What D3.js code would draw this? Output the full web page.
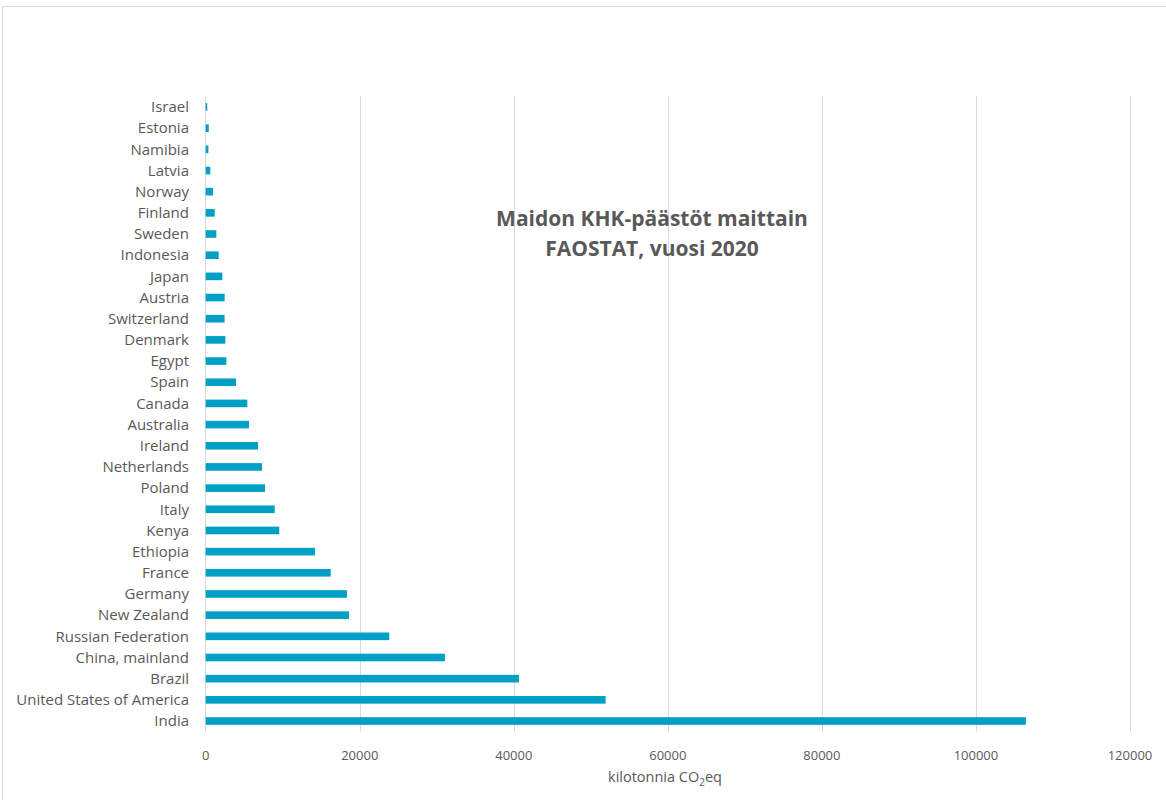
<!DOCTYPE html>
<html><head><meta charset="utf-8">
<script src="https://cdn.jsdelivr.net/npm/d3@7"></script>
<style>body{margin:0;background:#fff;} svg{display:block;}</style>
</head><body>
<svg id="chart" width="1166" height="800"></svg>
<script>
const countries = ["Israel","Estonia","Namibia","Latvia","Norway","Finland","Sweden","Indonesia","Japan","Austria","Switzerland","Denmark","Egypt","Spain","Canada","Australia","Ireland","Netherlands","Poland","Italy","Kenya","Ethiopia","France","Germany","New Zealand","Russian Federation","China, mainland","Brazil","United States of America","India"];
const emissions = [200,400,350,600,950,1170,1380,1690,2160,2460,2450,2550,2680,3930,5400,5620,6790,7310,7700,8960,9550,14190,16230,18340,18600,23830,31060,40670,51920,106480];
const xTicks = [0,20000,40000,60000,80000,100000,120000];
const titleLines = ["Maidon KHK-päästöt maittain","FAOSTAT, vuosi 2020"];

(function(){
const svg = d3.select("#chart");
const font = "'Segoe UI','Open Sans','Noto Sans',sans-serif";
const grey = "#595959";

svg.append("rect").attr("x",2.5).attr("y",6.5).attr("width",1200).attr("height",850)
  .attr("fill","#fff").attr("stroke","#d9d9d9").attr("stroke-width",1);

const pLeft = 205.7, pRight = 1130, pTop = 96.4, pBottom = 731.6;
const x = d3.scaleLinear().domain([0,120000]).range([pLeft,pRight]);
const y = d3.scaleBand().domain(countries).range([pTop,pBottom]).paddingInner(0.64).paddingOuter(0.32);

svg.append("g").selectAll("line").data(xTicks.slice(1)).join("line")
  .attr("x1",d=>Math.round(x(d))+0.5).attr("x2",d=>Math.round(x(d))+0.5)
  .attr("y1",pTop).attr("y2",pBottom).attr("stroke","#d9d9d9").attr("stroke-width",1);

svg.append("line").attr("x1",Math.round(x(0))-0.5).attr("x2",Math.round(x(0))-0.5)
  .attr("y1",pTop).attr("y2",pBottom).attr("stroke","#d9d9d9");

svg.append("g").selectAll("rect").data(countries).join("rect")
  .attr("x",x(0)).attr("y",d=>y(d))
  .attr("width",(d,i)=>x(emissions[i])-x(0))
  .attr("height",y.bandwidth())
  .attr("fill","#00a0c6");

svg.append("g").selectAll("text").data(countries).join("text")
  .attr("x",189).attr("y",d=>y(d)+y.bandwidth()/2)
  .attr("dy","0.35em").attr("text-anchor","end")
  .attr("font-family",font).attr("font-size",15).attr("fill",grey).text(d=>d);

svg.append("g").selectAll("text").data(xTicks).join("text")
  .attr("x",d=>x(d)).attr("y",755).attr("dy","0.35em").attr("text-anchor","middle")
  .attr("font-family",font).attr("font-size",13).attr("fill",grey).text(d=>d);

const at = svg.append("text").attr("x",665).attr("y",782).attr("text-anchor","middle")
  .attr("font-family",font).attr("font-size",14.5).attr("fill",grey);
at.append("tspan").text("kilotonnia CO");
at.append("tspan").attr("font-size",10).attr("dy",4).text("2");
at.append("tspan").attr("dy",-4).text("eq");

svg.append("g").selectAll("text").data(titleLines).join("text")
  .attr("x",652).attr("y",(d,i)=>226+i*30).attr("text-anchor","middle")
  .attr("font-family",font).attr("font-size",21).attr("font-weight","bold").attr("fill",grey).text(d=>d);
})();
</script>
</body></html>
